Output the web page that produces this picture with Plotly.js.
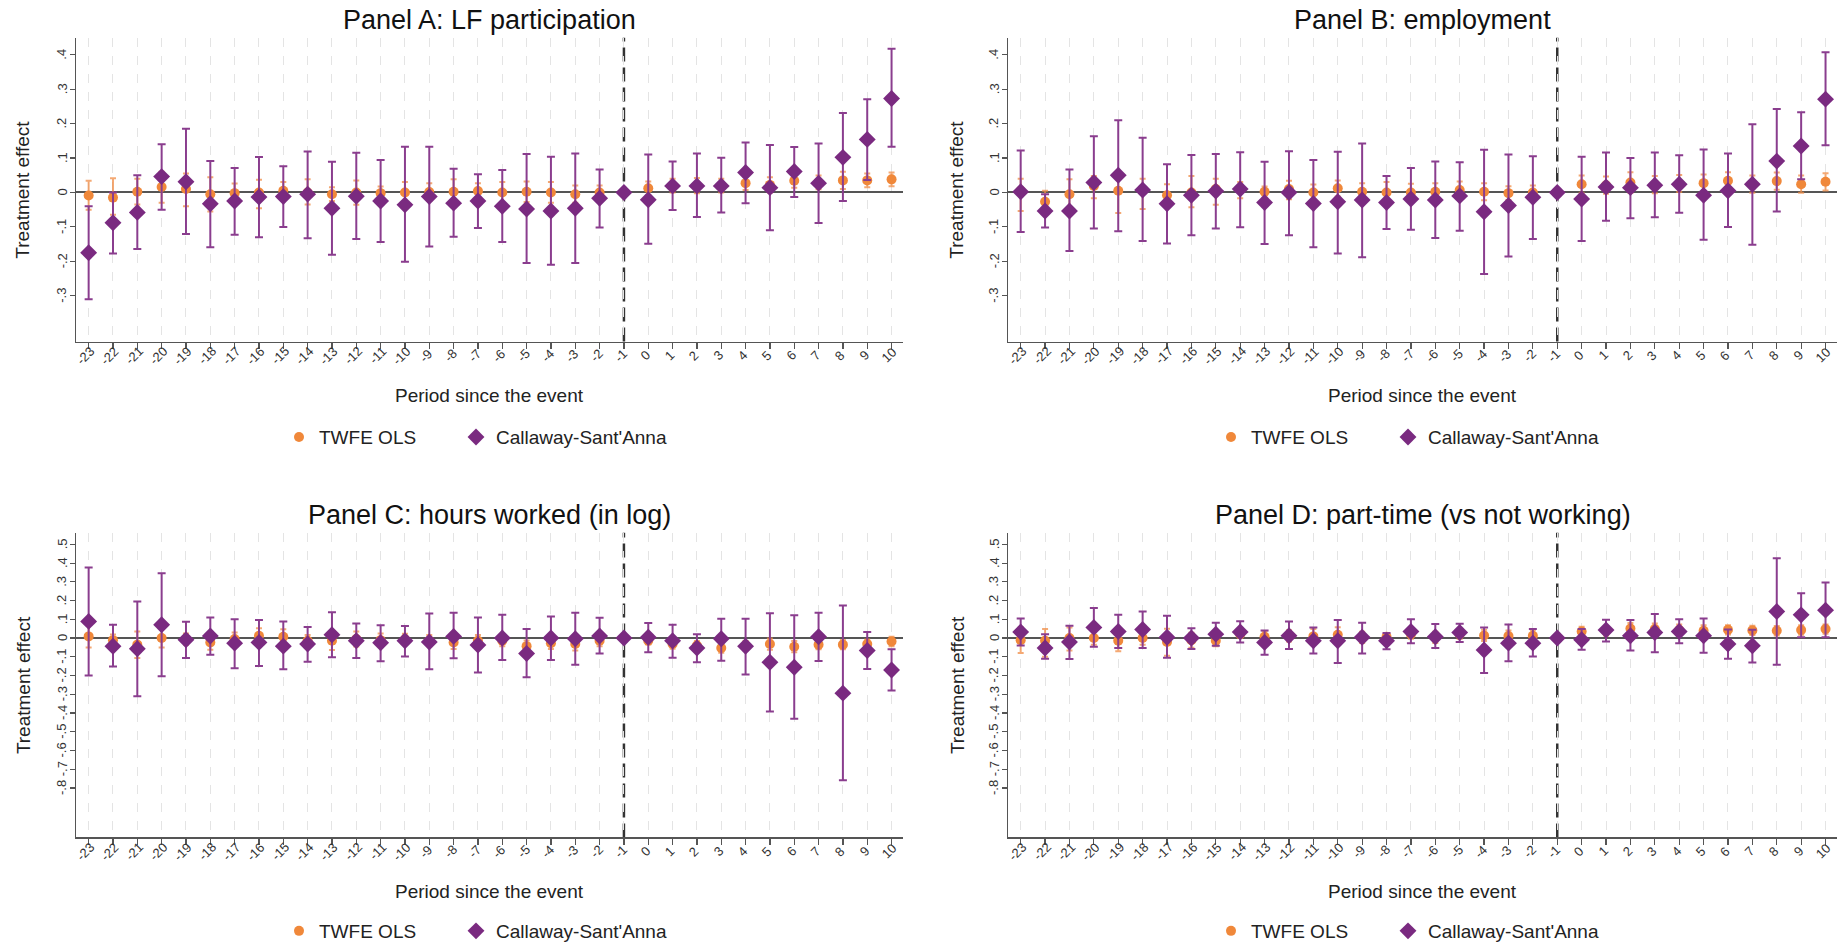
<!DOCTYPE html>
<html>
<head>
<meta charset="utf-8">
<script src="https://cdn.plot.ly/plotly-3.0.1.min.js"></script>
<style>html,body{margin:0;padding:0;background:#fff;}#chart{width:1843px;height:950px;}</style>
</head>
<body>
<div id="chart"></div>
<script>
// ---------- data ----------
const periods = [-23,-22,-21,-20,-19,-18,-17,-16,-15,-14,-13,-12,-11,-10,-9,-8,-7,-6,-5,-4,-3,-2,-1,0,1,2,3,4,5,6,7,8,9,10];
const periodLabels = ["-23","-22","-21","-20","-19","-18","-17","-16","-15","-14","-13","-12","-11","-10","-9","-8","-7","-6","-5","-4","-3","-2","-1","0","1","2","3","4","5","6","7","8","9","10"];

const yTicksAB = [-0.3,-0.2,-0.1,0,0.1,0.2,0.3,0.4];
const yLabelsAB = ["-.3","-.2","-.1","0",".1",".2",".3",".4"];
const yTicksCD = [-0.8,-0.7,-0.6,-0.5,-0.4,-0.3,-0.2,-0.1,0,0.1,0.2,0.3,0.4,0.5];
const yLabelsCD = ["-.8","-.7","-.6","-.5","-.4","-.3","-.2","-.1","0",".1",".2",".3",".4",".5"];

const panelTitles = ["Panel A: LF participation","Panel B: employment","Panel C: hours worked (in log)","Panel D: part-time (vs not working)"];
const seriesNames = ["TWFE OLS","Callaway-Sant'Anna"];

// Panel A: LF participation
const twfeA   = [-0.009,-0.015,0.002,0.016,0.010,-0.005,-0.002,0.000,0.005,0.000,-0.005,0.000,-0.002,0.000,0.001,0.002,0.004,0.000,0.002,0.000,-0.005,0.000,0,0.012,0.020,0.020,0.020,0.027,0.022,0.034,0.029,0.035,0.035,0.038];
const twfeALo = [-0.050,-0.065,-0.035,-0.030,-0.040,-0.055,-0.030,-0.046,-0.020,-0.035,-0.025,-0.036,-0.020,-0.030,-0.025,-0.035,-0.020,-0.030,-0.028,-0.030,-0.030,-0.020,null,-0.008,0.000,-0.002,0.000,0.007,0.000,0.014,0.009,0.010,0.015,0.018];
const twfeAHi = [0.034,0.041,0.040,0.060,0.055,0.044,0.026,0.037,0.030,0.038,0.015,0.035,0.017,0.030,0.027,0.038,0.027,0.030,0.032,0.030,0.020,0.020,null,0.032,0.040,0.042,0.040,0.047,0.044,0.054,0.049,0.060,0.055,0.058];
const csA     = [-0.175,-0.088,-0.058,0.046,0.031,-0.033,-0.025,-0.013,-0.012,-0.005,-0.046,-0.011,-0.025,-0.036,-0.012,-0.031,-0.025,-0.040,-0.048,-0.054,-0.046,-0.017,0,-0.021,0.019,0.019,0.019,0.058,0.014,0.061,0.027,0.102,0.154,0.273];
const csALo   = [-0.310,-0.177,-0.164,-0.050,-0.121,-0.159,-0.123,-0.130,-0.100,-0.133,-0.181,-0.135,-0.144,-0.201,-0.157,-0.129,-0.103,-0.144,-0.205,-0.210,-0.205,-0.102,null,-0.149,-0.051,-0.071,-0.058,-0.031,-0.110,-0.013,-0.089,-0.025,0.036,0.133];
const csAHi   = [-0.040,0.000,0.050,0.140,0.185,0.091,0.071,0.103,0.076,0.119,0.089,0.115,0.094,0.133,0.133,0.069,0.053,0.065,0.112,0.104,0.113,0.067,null,0.110,0.090,0.113,0.101,0.145,0.138,0.132,0.142,0.231,0.271,0.417];

// Panel B: employment
const twfeB   = [0.005,-0.027,-0.005,0.019,0.005,0.005,-0.008,0.000,0.010,0.010,0.002,0.010,0.000,0.012,0.002,0.000,0.000,0.002,0.007,0.002,-0.002,0.000,0,0.024,0.021,0.029,0.023,0.026,0.027,0.034,0.024,0.033,0.024,0.031];
const twfeBLo = [-0.054,-0.060,-0.048,-0.017,-0.060,-0.048,-0.043,-0.043,-0.036,-0.017,-0.015,-0.020,-0.025,-0.012,-0.025,-0.030,-0.025,-0.023,-0.018,-0.023,-0.022,-0.020,null,-0.001,-0.004,-0.001,-0.002,0.001,0.002,0.009,-0.001,0.008,-0.001,0.006];
const twfeBHi = [0.040,0.005,0.038,0.048,0.054,0.040,0.024,0.048,0.040,0.030,0.017,0.034,0.023,0.035,0.027,0.030,0.025,0.027,0.032,0.027,0.018,0.020,null,0.049,0.046,0.059,0.048,0.051,0.052,0.059,0.049,0.058,0.049,0.056];
const csB     = [0.002,-0.054,-0.054,0.029,0.050,0.007,-0.033,-0.008,0.004,0.010,-0.029,0.000,-0.032,-0.027,-0.022,-0.029,-0.019,-0.022,-0.010,-0.056,-0.038,-0.014,0,-0.019,0.016,0.014,0.021,0.024,-0.008,0.005,0.024,0.091,0.135,0.271];
const csBLo   = [-0.115,-0.102,-0.170,-0.105,-0.113,-0.141,-0.148,-0.124,-0.105,-0.101,-0.150,-0.124,-0.159,-0.177,-0.188,-0.106,-0.108,-0.132,-0.111,-0.237,-0.186,-0.135,null,-0.141,-0.082,-0.075,-0.072,-0.059,-0.137,-0.100,-0.152,-0.055,0.038,0.137];
const csBHi   = [0.122,-0.005,0.067,0.163,0.210,0.159,0.082,0.109,0.112,0.117,0.089,0.120,0.094,0.118,0.142,0.048,0.071,0.090,0.088,0.124,0.110,0.105,null,0.104,0.116,0.100,0.116,0.108,0.125,0.113,0.198,0.242,0.233,0.407];

// Panel C: hours worked (in log)
const twfeC   = [0.009,-0.011,-0.035,0.000,-0.005,-0.023,-0.005,0.012,0.007,-0.014,-0.014,-0.005,-0.011,-0.007,-0.014,-0.023,-0.014,-0.014,-0.043,-0.028,-0.032,-0.014,0,-0.014,-0.032,-0.040,-0.053,-0.040,-0.032,-0.046,-0.035,-0.035,-0.032,-0.018];
const twfeCLo = [-0.050,-0.041,-0.106,-0.050,-0.035,-0.063,-0.040,-0.028,-0.033,-0.044,-0.064,-0.045,-0.046,-0.037,-0.044,-0.058,-0.044,-0.044,-0.073,-0.058,-0.067,-0.044,null,-0.034,-0.057,-0.065,-0.078,-0.065,-0.062,-0.076,-0.060,-0.060,-0.057,-0.043];
const twfeCHi = [0.075,0.019,0.035,0.050,0.025,0.017,0.030,0.052,0.047,0.016,0.036,0.035,0.024,0.023,0.016,0.012,0.016,0.016,-0.013,0.002,0.003,0.016,null,0.006,-0.007,-0.015,-0.028,-0.015,-0.002,-0.016,-0.010,-0.010,-0.007,0.007];
const csC     = [0.089,-0.044,-0.057,0.071,-0.009,0.011,-0.027,-0.023,-0.043,-0.032,0.018,-0.014,-0.025,-0.014,-0.021,0.009,-0.037,0.000,-0.082,0.000,-0.004,0.011,0,0.004,-0.014,-0.053,-0.004,-0.044,-0.129,-0.156,0.007,-0.294,-0.066,-0.170];
const csCLo   = [-0.200,-0.152,-0.310,-0.204,-0.106,-0.089,-0.161,-0.149,-0.167,-0.126,-0.103,-0.106,-0.124,-0.099,-0.167,-0.108,-0.184,-0.117,-0.209,-0.117,-0.142,-0.083,null,-0.076,-0.105,-0.129,-0.121,-0.195,-0.392,-0.431,-0.122,-0.759,-0.165,-0.280];
const csCHi   = [0.376,0.071,0.195,0.346,0.087,0.110,0.101,0.096,0.089,0.059,0.138,0.078,0.069,0.064,0.131,0.135,0.110,0.124,0.048,0.115,0.135,0.108,null,0.080,0.071,0.021,0.103,0.103,0.133,0.122,0.135,0.174,0.032,-0.060];

// Panel D: part-time (vs not working)
const twfeD   = [-0.011,-0.014,0.000,0.000,-0.014,0.000,-0.021,-0.011,-0.014,0.020,0.007,0.012,0.009,0.018,0.004,0.007,0.021,0.004,0.021,0.014,0.011,0.012,0,0.035,0.039,0.051,0.048,0.043,0.039,0.044,0.041,0.039,0.043,0.048];
const twfeDLo = [-0.080,-0.100,-0.067,-0.035,-0.070,-0.035,-0.094,-0.051,-0.044,0.000,-0.023,-0.018,-0.031,-0.022,-0.026,-0.013,-0.004,-0.026,-0.004,-0.016,-0.019,-0.018,null,0.010,0.014,0.021,0.018,0.013,0.009,0.019,0.016,0.014,0.018,0.023];
const twfeDHi = [0.057,0.048,0.057,0.035,0.030,0.035,0.050,0.029,0.016,0.040,0.037,0.042,0.049,0.058,0.034,0.027,0.046,0.034,0.046,0.044,0.041,0.042,null,0.060,0.064,0.081,0.078,0.073,0.069,0.069,0.066,0.064,0.068,0.073];
const csD     = [0.032,-0.053,-0.021,0.057,0.035,0.046,0.004,0.000,0.021,0.032,-0.023,0.012,-0.014,-0.014,0.004,-0.014,0.035,0.007,0.030,-0.064,-0.027,-0.027,0,-0.009,0.043,0.012,0.030,0.035,0.012,-0.032,-0.041,0.142,0.124,0.149];
const csDLo   = [-0.040,-0.110,-0.112,-0.046,-0.053,-0.053,-0.105,-0.058,-0.041,-0.023,-0.089,-0.058,-0.082,-0.133,-0.082,-0.060,-0.028,-0.053,-0.021,-0.186,-0.124,-0.099,null,-0.062,-0.018,-0.067,-0.076,-0.028,-0.078,-0.110,-0.131,-0.142,0.004,0.004];
const csDHi   = [0.105,0.021,0.066,0.160,0.124,0.142,0.119,0.053,0.082,0.090,0.041,0.089,0.057,0.096,0.082,0.027,0.101,0.075,0.076,0.057,0.073,0.048,null,0.048,0.098,0.096,0.128,0.101,0.105,0.046,0.044,0.426,0.239,0.296];

// ---------- styling / build ----------
const W = 1843, H = 950;
const FONT = "'Liberation Sans', Arial, Helvetica, sans-serif";
const ORANGE = "#F0883A", PURPLE = "#7A2A80";

function errs(pt, lo, hi) {
  return {
    plus: pt.map((v, i) => (hi[i] === null ? NaN : hi[i] - v)),
    minus: pt.map((v, i) => (lo[i] === null ? NaN : v - lo[i]))
  };
}

const panels = [
  {tw: [twfeA, twfeALo, twfeAHi], cs: [csA, csALo, csAHi], yt: yTicksAB, yl: yLabelsAB, yr: [-0.433, 0.449]},
  {tw: [twfeB, twfeBLo, twfeBHi], cs: [csB, csBLo, csBHi], yt: yTicksAB, yl: yLabelsAB, yr: [-0.433, 0.449]},
  {tw: [twfeC, twfeCLo, twfeCHi], cs: [csC, csCLo, csCHi], yt: yTicksCD, yl: yLabelsCD, yr: [-1.064, 0.562]},
  {tw: [twfeD, twfeDLo, twfeDHi], cs: [csD, csDLo, csDHi], yt: yTicksCD, yl: yLabelsCD, yr: [-1.064, 0.562]}
];

// pixel geometry of each panel's plot area (left, right, top, bottom)
const geo = [
  {l: 76, r: 903, t: 38, b: 343},
  {l: 1008, r: 1837, t: 38, b: 343},
  {l: 76, r: 903, t: 535, b: 841},
  {l: 1008, r: 1837, t: 535, b: 841}
];

const traces = [];
const layout = {
  width: W, height: H,
  margin: {l: 0, r: 0, t: 0, b: 0, pad: 0},
  paper_bgcolor: "#fff", plot_bgcolor: "#fff",
  font: {family: FONT, color: "#222"},
  showlegend: true, shapes: [], annotations: []
};

panels.forEach((p, k) => {
  const n = k + 1;
  const xa = n === 1 ? "x" : "x" + n, ya = n === 1 ? "y" : "y" + n;
  const xk = n === 1 ? "xaxis" : "xaxis" + n, yk = n === 1 ? "yaxis" : "yaxis" + n;
  const lg = n === 1 ? "legend" : "legend" + n;
  const g = geo[k];
  const et = errs(p.tw[0], p.tw[1], p.tw[2]);
  const ec = errs(p.cs[0], p.cs[1], p.cs[2]);

  traces.push({
    type: "scatter", mode: "markers", x: periods, y: p.tw[0], xaxis: xa, yaxis: ya,
    name: seriesNames[0], legend: lg, showlegend: true, legendwidth: 132,
    marker: {symbol: "circle", size: 10, color: ORANGE, line: {width: 0}},
    error_y: {type: "data", symmetric: false, array: et.plus, arrayminus: et.minus,
              color: "rgba(240,140,70,0.75)", thickness: 2, width: 3}
  });
  traces.push({
    type: "scatter", mode: "markers", x: periods, y: p.cs[0], xaxis: xa, yaxis: ya,
    name: seriesNames[1], legend: lg, showlegend: true, legendwidth: 200,
    marker: {symbol: "diamond", size: 13, color: PURPLE, line: {width: 0}},
    error_y: {type: "data", symmetric: false, array: ec.plus, arrayminus: ec.minus,
              color: "#8A3D8E", thickness: 2, width: 4}
  });

  layout[xk] = {
    domain: [g.l / W, g.r / W], anchor: ya, range: [-23.52, 10.47],
    tickmode: "array", tickvals: periods, showticklabels: false,
    ticks: "outside", ticklen: 6, tickwidth: 1.2, tickcolor: "#555",
    showline: true, linecolor: "#555", linewidth: 1.5,
    showgrid: true, gridcolor: "#e4e4e4", gridwidth: 1, griddash: "dash",
    zeroline: false, fixedrange: true
  };
  layout[yk] = {
    domain: [1 - g.b / H, 1 - g.t / H], anchor: xa, range: p.yr,
    tickmode: "array", tickvals: p.yt, showticklabels: false,
    ticks: "outside", ticklen: 5, tickwidth: 1.2, tickcolor: "#555",
    showline: true, linecolor: "#555", linewidth: 1.5,
    showgrid: false, zeroline: true, zerolinecolor: "#555", zerolinewidth: 2,
    fixedrange: true
  };

  // x tick labels at 45 degrees
  periods.forEach((pv, i) => {
    layout.annotations.push({
      text: periodLabels[i], xref: xa, yref: ya + " domain", x: pv, y: 0,
      xanchor: "center", yanchor: "middle", xshift: -3, yshift: -14,
      textangle: -45, showarrow: false,
      font: {size: 13, color: "#333", family: FONT}
    });
  });
  // y tick labels, vertical
  p.yt.forEach((tv, i) => {
    layout.annotations.push({
      text: p.yl[i], xref: xa + " domain", yref: ya, x: 0, y: tv,
      xanchor: "center", yanchor: "middle", xshift: -14,
      textangle: -90, showarrow: false,
      font: {size: 13, color: "#333", family: FONT}
    });
  });

  // vertical dashed reference line at period -1
  layout.shapes.push({
    type: "line", xref: xa, yref: ya + " domain", x0: -1, x1: -1, y0: 0, y1: 1,
    line: {color: "#333", width: 2.5, dash: "14px,6px"}, layer: "below"
  });

  const cx = (g.l + g.r) / 2 / W;
  const titleY = [20, 20, 517, 517][k];
  const xTitleY = [397, 397, 895, 895][k];
  const yTitleX = [23, 957, 23, 957][k];
  layout.annotations.push({
    text: panelTitles[k], xref: "paper", yref: "paper", x: cx, y: 1 - titleY / H,
    xanchor: "center", yanchor: "middle", showarrow: false,
    font: {size: 27, color: "#111", family: FONT}
  });
  layout.annotations.push({
    text: "Period since the event", xref: "paper", yref: "paper", x: cx, y: 1 - xTitleY / H,
    xanchor: "center", yanchor: "middle", showarrow: false,
    font: {size: 19, color: "#222", family: FONT}
  });
  layout.annotations.push({
    text: "Treatment effect", xref: "paper", yref: "paper", x: yTitleX / W, y: 1 - (g.t + g.b) / 2 / H,
    xanchor: "center", yanchor: "middle", showarrow: false, textangle: -90,
    font: {size: 19, color: "#222", family: FONT}
  });

  const legY = [439, 439, 935, 935][k];
  const legX = [279, 1211, 279, 1211][k];
  layout[lg] = {
    orientation: "h", x: legX / W, y: 1 - legY / H, xanchor: "left", yanchor: "middle",
    xref: "paper", yref: "paper", bgcolor: "rgba(0,0,0,0)", borderwidth: 0,
    font: {size: 19, color: "#222", family: FONT},
    traceorder: "normal", itemclick: false, itemdoubleclick: false
  };
});

Plotly.newPlot("chart", traces, layout, {displayModeBar: false, staticPlot: true});
</script>
</body>
</html>
